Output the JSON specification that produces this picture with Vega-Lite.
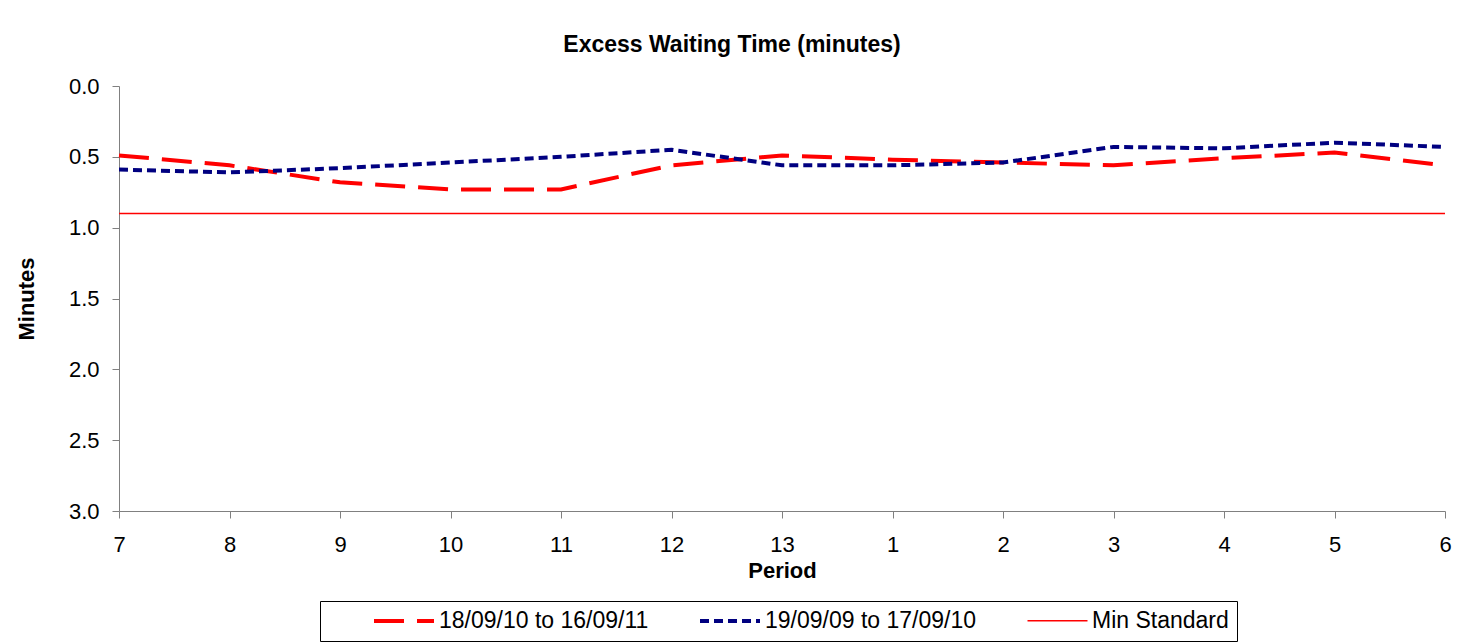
{
  "$schema": "https://vega.github.io/schema/vega-lite/v6.json",
  "width": 1326,
  "height": 425,
  "autosize": {"type": "none"},
  "padding": {"left": 119, "top": 86, "right": 30, "bottom": 132},
  "background": "white",
  "config": {
    "font": "Liberation Sans",
    "view": {"stroke": null},
    "axis": {"labelFont": "Liberation Sans", "titleFont": "Liberation Sans", "labelFontSize": 22, "titleFontSize": 22, "labelColor": "black", "titleColor": "black", "domainColor": "#808080", "tickColor": "#808080", "grid": false, "tickSize": 7}
  },
  "title": {"text": "Excess Waiting Time (minutes)", "fontSize": 23, "fontWeight": "bold", "font": "Liberation Sans", "color": "black", "offset": 18, "dx": -50},
  "data": {"values": [
    {"period": "7", "series": "18/09/10 to 16/09/11", "value": 0.49},
    {"period": "8", "series": "18/09/10 to 16/09/11", "value": 0.56},
    {"period": "9", "series": "18/09/10 to 16/09/11", "value": 0.68},
    {"period": "10", "series": "18/09/10 to 16/09/11", "value": 0.73},
    {"period": "11", "series": "18/09/10 to 16/09/11", "value": 0.73},
    {"period": "12", "series": "18/09/10 to 16/09/11", "value": 0.56},
    {"period": "13", "series": "18/09/10 to 16/09/11", "value": 0.49},
    {"period": "1", "series": "18/09/10 to 16/09/11", "value": 0.52},
    {"period": "2", "series": "18/09/10 to 16/09/11", "value": 0.54},
    {"period": "3", "series": "18/09/10 to 16/09/11", "value": 0.56},
    {"period": "4", "series": "18/09/10 to 16/09/11", "value": 0.51},
    {"period": "5", "series": "18/09/10 to 16/09/11", "value": 0.47},
    {"period": "6", "series": "18/09/10 to 16/09/11", "value": 0.56},
    {"period": "7", "series": "19/09/09 to 17/09/10", "value": 0.59},
    {"period": "8", "series": "19/09/09 to 17/09/10", "value": 0.61},
    {"period": "9", "series": "19/09/09 to 17/09/10", "value": 0.58},
    {"period": "10", "series": "19/09/09 to 17/09/10", "value": 0.54},
    {"period": "11", "series": "19/09/09 to 17/09/10", "value": 0.50},
    {"period": "12", "series": "19/09/09 to 17/09/10", "value": 0.45},
    {"period": "13", "series": "19/09/09 to 17/09/10", "value": 0.56},
    {"period": "1", "series": "19/09/09 to 17/09/10", "value": 0.56},
    {"period": "2", "series": "19/09/09 to 17/09/10", "value": 0.54},
    {"period": "3", "series": "19/09/09 to 17/09/10", "value": 0.43},
    {"period": "4", "series": "19/09/09 to 17/09/10", "value": 0.44},
    {"period": "5", "series": "19/09/09 to 17/09/10", "value": 0.40},
    {"period": "6", "series": "19/09/09 to 17/09/10", "value": 0.43},
    {"period": "7", "series": "Min Standard", "value": 0.9},
    {"period": "8", "series": "Min Standard", "value": 0.9},
    {"period": "9", "series": "Min Standard", "value": 0.9},
    {"period": "10", "series": "Min Standard", "value": 0.9},
    {"period": "11", "series": "Min Standard", "value": 0.9},
    {"period": "12", "series": "Min Standard", "value": 0.9},
    {"period": "13", "series": "Min Standard", "value": 0.9},
    {"period": "1", "series": "Min Standard", "value": 0.9},
    {"period": "2", "series": "Min Standard", "value": 0.9},
    {"period": "3", "series": "Min Standard", "value": 0.9},
    {"period": "4", "series": "Min Standard", "value": 0.9},
    {"period": "5", "series": "Min Standard", "value": 0.9},
    {"period": "6", "series": "Min Standard", "value": 0.9}
  ]},
  "mark": {"type": "line", "strokeCap": "butt"},
  "encoding": {
    "x": {"field": "period", "type": "ordinal", "sort": ["7","8","9","10","11","12","13","1","2","3","4","5","6"], "scale": {"type": "point", "padding": 0}, "axis": {"title": "Period", "labelAngle": 0, "titleFontWeight": "bold", "labelPadding": 16, "titlePadding": 5}},
    "y": {"field": "value", "type": "quantitative", "scale": {"domain": [0, 3], "reverse": true, "nice": false}, "axis": {"title": "Minutes", "values": [0, 0.5, 1, 1.5, 2, 2.5, 3], "format": ".1f", "titleFontWeight": "bold", "labelPadding": 13, "titlePadding": 30}},
    "color": {"field": "series", "type": "nominal", "scale": {"domain": ["18/09/10 to 16/09/11", "19/09/09 to 17/09/10", "Min Standard"], "range": ["#FF0000", "#000080", "#FF0000"]}, "legend": {"title": null, "orient": "none", "legendX": 201, "legendY": 515, "direction": "horizontal", "strokeColor": "black", "padding": 8, "labelFontSize": 23, "labelColor": "black", "symbolType": "M-3,0L3,0", "symbolSize": 400, "symbolOffset": 64, "labelOffset": 23, "columnPadding": 5, "labelFont": "Liberation Sans", "labelLimit": 400}},
    "strokeDash": {"field": "series", "type": "nominal", "scale": {"domain": ["18/09/10 to 16/09/11", "19/09/09 to 17/09/10", "Min Standard"], "range": [[30, 13], [9, 5], [1, 0]]}},
    "strokeWidth": {"field": "series", "type": "nominal", "scale": {"type": "ordinal", "domain": ["18/09/10 to 16/09/11", "19/09/09 to 17/09/10", "Min Standard"], "range": [4, 4, 1.5]}}
  }
}
